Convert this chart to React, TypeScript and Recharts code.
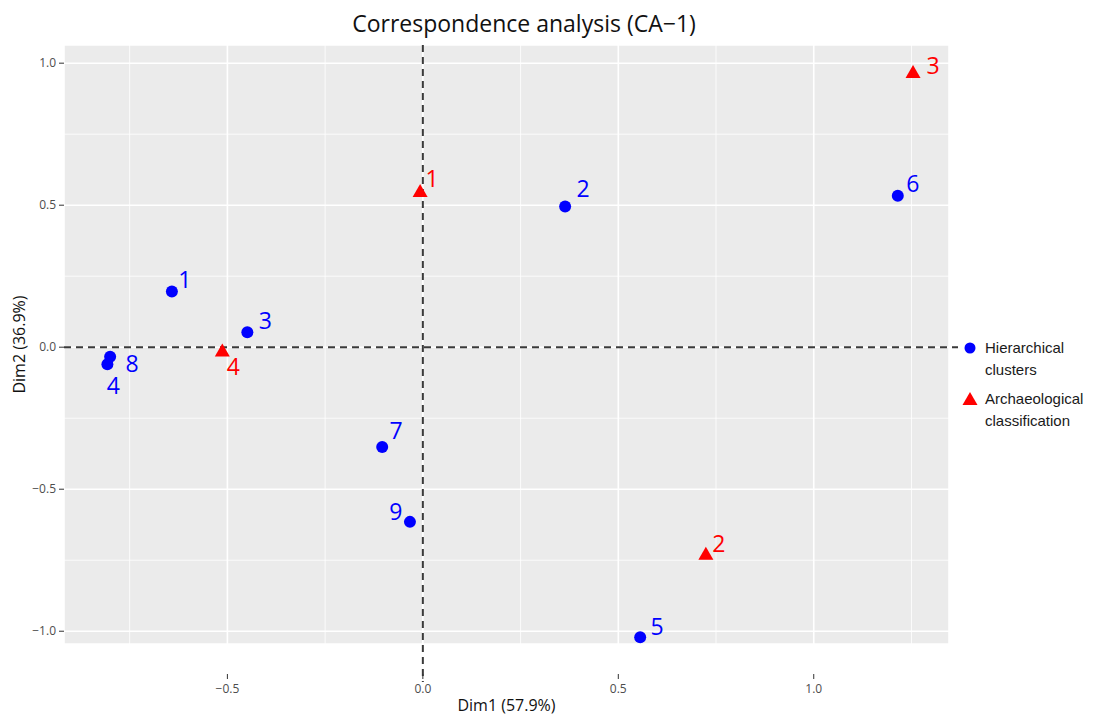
import React from 'react';
import {
  ScatterChart,
  Scatter,
  XAxis,
  YAxis,
  CartesianGrid,
  ReferenceLine,
  Legend,
} from 'recharts';

// hierarchical clusters (blue dots)
const clusterIds = ['1', '2', '3', '4', '5', '6', '7', '8', '9'];
const clusterDim1 = [-0.642, 0.364, -0.449, -0.807, 0.556, 1.215, -0.104, -0.8, -0.033];
const clusterDim2 = [0.196, 0.495, 0.053, -0.06, -1.021, 0.533, -0.351, -0.034, -0.615];

// archaeological classification (red triangles)
const classIds = ['1', '2', '3', '4'];
const classDim1 = [-0.007, 0.724, 1.254, -0.513];
const classDim2 = [0.546, -0.731, 0.965, -0.015];

const xTicks = [-0.5, 0, 0.5, 1];
const yTicks = [-1, -0.5, 0, 0.5, 1];
const xMinor = [-0.75, -0.25, 0.25, 0.75, 1.25];
const yMinor = [-0.75, -0.25, 0.25, 0.75];

// where each text label sits relative to its point (repel-style)
const clusterNudge: Record<string, [number, number]> = {
  '1': [13, -13],
  '2': [18, -19],
  '3': [18, -12],
  '4': [6, 21],
  '5': [17, -11],
  '6': [15, -13],
  '7': [14, -17],
  '8': [22, 6],
  '9': [-14, -11],
};
const classNudge: Record<string, [number, number]> = {
  '1': [12, -14],
  '2': [13, -12],
  '3': [20, -8],
  '4': [11, 15],
};

const BLUE = '#0000FF';
const RED = '#FF0000';
const fmt = (v: number) => v.toFixed(1).replace('-', '\u2212');

const clusterData = clusterIds.map((id, i) => ({ id, x: clusterDim1[i], y: clusterDim2[i] }));
const classData = classIds.map((id, i) => ({ id, x: classDim1[i], y: classDim2[i] }));

const labelStyle = { fontFamily: '"Open Sans", sans-serif', fontSize: 23 };

const ClusterDot = (p: any) => {
  const [dx, dy] = clusterNudge[p.payload.id];
  return (
    <g>
      <circle cx={p.cx} cy={p.cy} r={6} fill={BLUE} />
      <text x={p.cx + dx} y={p.cy + dy} textAnchor="middle" dominantBaseline="central" fill={BLUE} style={labelStyle}>
        {p.payload.id}
      </text>
    </g>
  );
};

const ClassTriangle = (p: any) => {
  const [dx, dy] = classNudge[p.payload.id];
  const { cx, cy } = p;
  return (
    <g>
      <polygon points={`${cx},${cy - 8} ${cx - 7.5},${cy + 5} ${cx + 7.5},${cy + 5}`} fill={RED} />
      <text x={cx + dx} y={cy + dy} textAnchor="middle" dominantBaseline="central" fill={RED} style={labelStyle}>
        {p.payload.id}
      </text>
    </g>
  );
};

const XTick = (p: any) => (
  <g>
    <line x1={p.x} x2={p.x} y1={p.y + 30} y2={p.y + 35} stroke="#333" strokeWidth={1} />
    <text x={p.x} y={p.y + 44} textAnchor="middle" dominantBaseline="central" fill="#4D4D4D" fontSize={12} fontFamily='"Open Sans", sans-serif'>
      {fmt(p.payload.value)}
    </text>
  </g>
);

const LegendBox = () => {
  const items = [
    { lines: ['Hierarchical', 'clusters'], color: BLUE, tri: false },
    { lines: ['Archaeological', 'classification'], color: RED, tri: true },
  ];
  return (
    <div style={{ fontFamily: '"Liberation Sans", Arial, sans-serif', fontSize: 15, color: '#1a1a1a', lineHeight: '22px' }}>
      {items.map((it, k) => (
        <div key={k} style={{ display: 'flex', alignItems: 'flex-start', marginBottom: 7 }}>
          <svg width={24} height={22} style={{ flex: 'none' }}>
            {it.tri ? (
              <polygon points="12,4 4.5,17 19.5,17" fill={it.color} />
            ) : (
              <circle cx={12} cy={11} r={5.5} fill={it.color} />
            )}
          </svg>
          <div style={{ marginLeft: 3 }}>
            {it.lines.map((l) => (
              <div key={l}>{l}</div>
            ))}
          </div>
        </div>
      ))}
    </div>
  );
};

const zeroLineStyle = { stroke: '#3a3a3a', strokeWidth: 2, strokeDasharray: '7 5' };
const axisTitleStyle = { fontFamily: '"Open Sans", sans-serif', fontSize: 16, fill: '#111' };

const App: React.FC = () => {
  return (
    <div style={{ position: 'absolute', left: 0, top: 0, width: 1099, height: 716, background: '#fff' }}>
      <div
        style={{
          position: 'absolute',
          left: 0,
          top: 7,
          width: 1048,
          textAlign: 'center',
          fontFamily: '"Open Sans", sans-serif',
          fontSize: 23,
          lineHeight: '32px',
          color: '#111',
        }}
      >
        Correspondence analysis (CA{'\u2212'}1)
      </div>
      <ScatterChart width={1099} height={716} margin={{ top: 45, right: 150, bottom: 0, left: 0 }}>
        <CartesianGrid fill="#EBEBEB" stroke="#FFFFFF" strokeWidth={1.6} />
        {xMinor.map((v) => (
          <ReferenceLine key={'xm' + v} x={v} stroke="#FFFFFF" strokeWidth={0.8} />
        ))}
        {yMinor.map((v) => (
          <ReferenceLine key={'ym' + v} y={v} stroke="#FFFFFF" strokeWidth={0.8} />
        ))}
        <XAxis
          type="number"
          dataKey="x"
          domain={[-0.918, 1.346]}
          ticks={xTicks}
          allowDataOverflow
          axisLine={false}
          tickLine={false}
          tickSize={0}
          tickMargin={0}
          height={72}
          tick={<XTick />}
          label={{ value: 'Dim1 (57.9%)', position: 'insideBottom', offset: 5, style: axisTitleStyle }}
        />
        <YAxis
          type="number"
          dataKey="y"
          domain={[-1.045, 1.064]}
          ticks={yTicks}
          allowDataOverflow
          width={64}
          axisLine={false}
          tickSize={5}
          tickMargin={3}
          tickLine={{ stroke: '#333' }}
          tickFormatter={fmt}
          tick={{ fill: '#4D4D4D', fontSize: 12, fontFamily: '"Open Sans", sans-serif' }}
          label={{
            value: 'Dim2 (36.9%)',
            angle: -90,
            position: 'insideLeft',
            offset: 19,
            style: { ...axisTitleStyle, textAnchor: 'middle' },
          }}
        />
        <ReferenceLine
          x={0}
          {...zeroLineStyle}
          shape={(p: any) => <line x1={p.x1} x2={p.x2} y1={Math.min(p.y1, p.y2)} y2={Math.max(p.y1, p.y2) + 38} {...zeroLineStyle} />}
        />
        <ReferenceLine
          y={0}
          {...zeroLineStyle}
          shape={(p: any) => <line x1={Math.min(p.x1, p.x2)} x2={Math.max(p.x1, p.x2) + 9} y1={p.y1} y2={p.y2} {...zeroLineStyle} />}
        />
        <Legend
          layout="horizontal"
          verticalAlign="middle"
          align="center"
          wrapperStyle={{ left: 958, top: 337, width: 141 }}
          content={<LegendBox />}
        />
        <Scatter name="Hierarchical clusters" data={clusterData} shape={<ClusterDot />} isAnimationActive={false} />
        <Scatter name="Archaeological classification" data={classData} shape={<ClassTriangle />} isAnimationActive={false} />
      </ScatterChart>
    </div>
  );
};

export default App;
